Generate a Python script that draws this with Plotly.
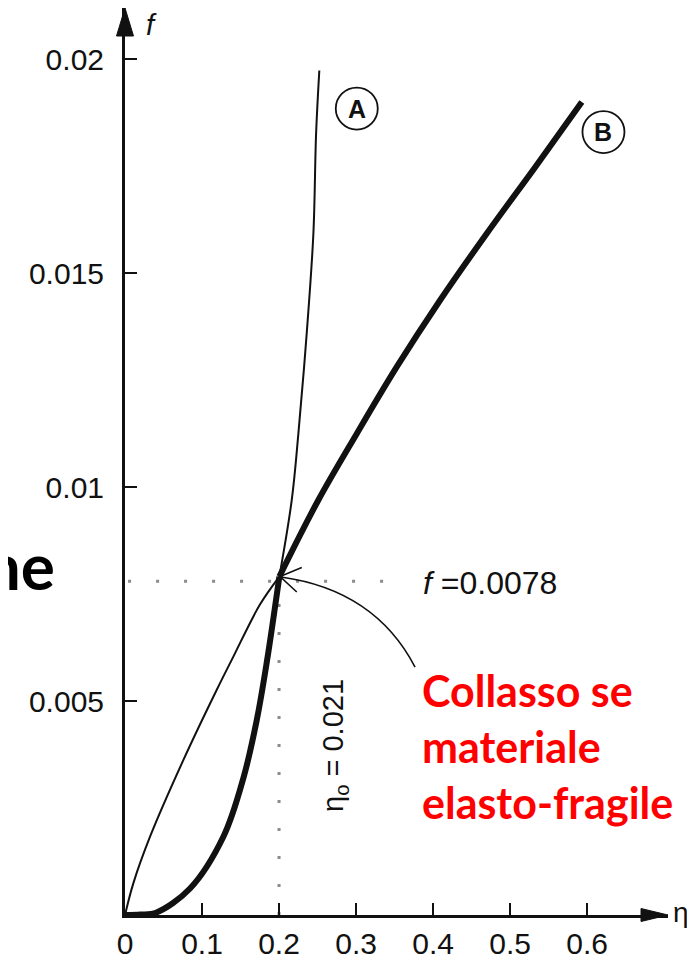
import plotly.graph_objects as go

# ---------------- data ----------------
ETA_A = [0, 0.0108, 0.0325, 0.0757, 0.119, 0.1407, 0.175, 0.2004, 0.2165, 0.2251, 0.2359, 0.2446, 0.2481, 0.2523]
F_A = [0, 0.00074, 0.00183, 0.00362, 0.00526, 0.00604, 0.00725, 0.00791, 0.00970, 0.01125, 0.01359, 0.01593, 0.01826, 0.01974]

ETA_B = [0, 0.02, 0.041, 0.0844, 0.1277, 0.1537, 0.171, 0.184, 0.2004, 0.2511, 0.3009, 0.3528, 0.4091, 0.4697, 0.5325, 0.5931]
F_B = [0, 0.00001, 0.00006, 0.00062, 0.00183, 0.00320, 0.00455, 0.0059, 0.00791, 0.00970, 0.01125, 0.01281, 0.01437, 0.01593, 0.01748, 0.0190]

X_TICKS = [0, 0.1, 0.2, 0.3, 0.4, 0.5, 0.6]
X_TICK_TEXT = ["0", "0.1", "0.2", "0.3", "0.4", "0.5", "0.6"]
Y_TICKS = [0.005, 0.01, 0.015, 0.02]
Y_TICK_TEXT = ["0.005", "0.01", "0.015", "0.02"]

ETA_CRIT = 0.2
F_CRIT = 0.0078
F_LABEL = "<i>f</i> =0.0078"
ETA0_LABEL = "η<sub>o</sub> = 0.021"
RED_LABEL = "Collasso se<br>materiale<br>elasto-fragile"
SIDE_TEXT = "<b>ne</b>"

# ---------------- layout geometry ----------------
OFF = 8                     # page offset of the figure (default body margin)
W, H = 695 - OFF, 959 - OFF
ML, MR, MT, MB = 125 - OFF, 27, 0, 44
X_MAX = 0.705
Y_MAX = 0.0212
PW = W - ML - MR
PH = H - MT - MB

def px_x(px):  # page pixel -> paper x
    return (px - OFF - ML) / PW

def px_y(py):  # page pixel -> paper y
    return (H - MB - (py - OFF)) / PH

def dx(px):    # page pixel -> data x
    return px_x(px) * X_MAX

def dy(py):    # page pixel -> data y
    return px_y(py) * Y_MAX

FONT = "Liberation Sans, Arial, sans-serif"
INK = "#111111"

fig = go.Figure()

# dotted guide lines
fig.add_trace(go.Scatter(x=[0.004, 0.357], y=[F_CRIT, F_CRIT], mode="lines",
                         line=dict(color="#8a8a8a", width=3, dash="3px,25px"),
                         hoverinfo="skip"))
fig.add_trace(go.Scatter(x=[ETA_CRIT, ETA_CRIT], y=[0, F_CRIT], mode="lines",
                         line=dict(color="#8a8a8a", width=3, dash="3px,25px"),
                         hoverinfo="skip"))

# curves: each drawn as two smooth branches meeting at the intersection point
def branch_index(etas):
    return min(range(len(etas)), key=lambda i: abs(etas[i] - ETA_CRIT))

for etas, fs, w in [(ETA_A, F_A, 2), (ETA_B, F_B, 6)]:
    k = branch_index(etas)
    for xs, ys in [(etas[:k + 1], fs[:k + 1]), (etas[k:], fs[k:])]:
        fig.add_trace(go.Scatter(x=xs, y=ys, mode="lines",
                                 line=dict(color=INK, width=w, shape="spline", smoothing=1.0),
                                 cliponaxis=False, hoverinfo="skip"))

shapes = []
# axis arrowheads (paper refs so they are not clipped)
shapes.append(dict(type="path", xref="paper", yref="paper",
                   path=f"M {px_x(125)},{px_y(8)} L {px_x(116.5)},{px_y(36)} L {px_x(133.5)},{px_y(36)} Z",
                   fillcolor=INK, line=dict(color=INK, width=1)))
shapes.append(dict(type="path", xref="paper", yref="paper",
                   path=f"M {px_x(668)},{px_y(915)} L {px_x(641)},{px_y(908.5)} L {px_x(641)},{px_y(921.5)} Z",
                   fillcolor=INK, line=dict(color=INK, width=1)))

# circled curve labels
LABEL_POS = {"A": (0.3009, 0.01885), "B": (0.6212, 0.0183)}
for cx, cy in LABEL_POS.values():
    shapes.append(dict(type="circle", xref="x", yref="y",
                       xsizemode="pixel", ysizemode="pixel",
                       xanchor=cx, yanchor=cy, x0=-21, x1=21, y0=-21, y1=21,
                       line=dict(color=INK, width=1.8)))

# curved pointer arrow
shapes.append(dict(type="path", xref="x", yref="y",
                   path="M 0.3766,0.005794 Q 0.3247,0.007593 0.2026,0.0079",
                   line=dict(color=INK, width=1.6)))
shapes.append(dict(type="path", xref="x", yref="y",
                   path="M 0.2295,0.00812 L 0.2013,0.00791 L 0.2230,0.00755",
                   line=dict(color=INK, width=1.6)))

annotations = []
for name, (cx, cy) in LABEL_POS.items():
    annotations.append(dict(text=f"<b>{name}</b>", x=cx, y=cy, xref="x", yref="y", showarrow=False,
                            font=dict(family=FONT, size=25, color=INK),
                            xanchor="center", yanchor="middle"))
annotations += [
    dict(text=F_LABEL, x=dx(421), y=F_CRIT - 0.00005, xref="x", yref="y", showarrow=False,
         font=dict(family=FONT, size=32, color=INK), xanchor="left", yanchor="middle"),
    dict(text=ETA0_LABEL, x=dx(335), y=dy(746), xref="x", yref="y", showarrow=False,
         textangle=-90, font=dict(family=FONT, size=29, color=INK),
         xanchor="center", yanchor="middle"),
    dict(text=RED_LABEL, x=dx(420), y=dy(746), xref="x", yref="y", showarrow=False,
         align="left", font=dict(family="Lato, Open Sans, sans-serif", size=43,
                                 color="#ff0000", weight="bold"),
         xanchor="left", yanchor="middle"),
    dict(text="<i>f</i>", x=px_x(151), y=px_y(25), xref="paper", yref="paper",
         showarrow=False, font=dict(family=FONT, size=29, color=INK),
         xanchor="center", yanchor="middle"),
    dict(text="η", x=px_x(681), y=px_y(912), xref="paper", yref="paper",
         showarrow=False, font=dict(family=FONT, size=28, color=INK),
         xanchor="center", yanchor="middle"),
]

fig.update_layout(
    width=W, height=H,
    margin=dict(l=ML, r=MR, t=MT, b=MB, pad=0, autoexpand=False),
    paper_bgcolor="white", plot_bgcolor="white",
    showlegend=False,
    title=dict(text=SIDE_TEXT, xref="container", yref="container",
               x=(55 - OFF) / W, xanchor="right",
               y=1 - (568 - OFF) / H, yanchor="middle",
               font=dict(family="Lato, Open Sans, sans-serif", size=64, color="#000000")),
    shapes=shapes, annotations=annotations,
    xaxis=dict(range=[0, X_MAX], showgrid=False, zeroline=False, automargin=False,
               showline=True, linewidth=3, linecolor=INK,
               tickmode="array", tickvals=X_TICKS, ticktext=X_TICK_TEXT,
               ticks="inside", ticklen=12, tickwidth=2, tickcolor=INK,
               ticklabelstandoff=0,
               tickfont=dict(family=FONT, size=30, color=INK), fixedrange=True),
    yaxis=dict(range=[0, Y_MAX], showgrid=False, zeroline=False, automargin=False,
               showline=True, linewidth=3, linecolor=INK,
               tickmode="array", tickvals=Y_TICKS, ticktext=Y_TICK_TEXT,
               ticks="inside", ticklen=12, tickwidth=2, tickcolor=INK,
               ticklabelstandoff=12,
               tickfont=dict(family=FONT, size=30, color=INK), fixedrange=True),
)

fig.write_html("out.html")
